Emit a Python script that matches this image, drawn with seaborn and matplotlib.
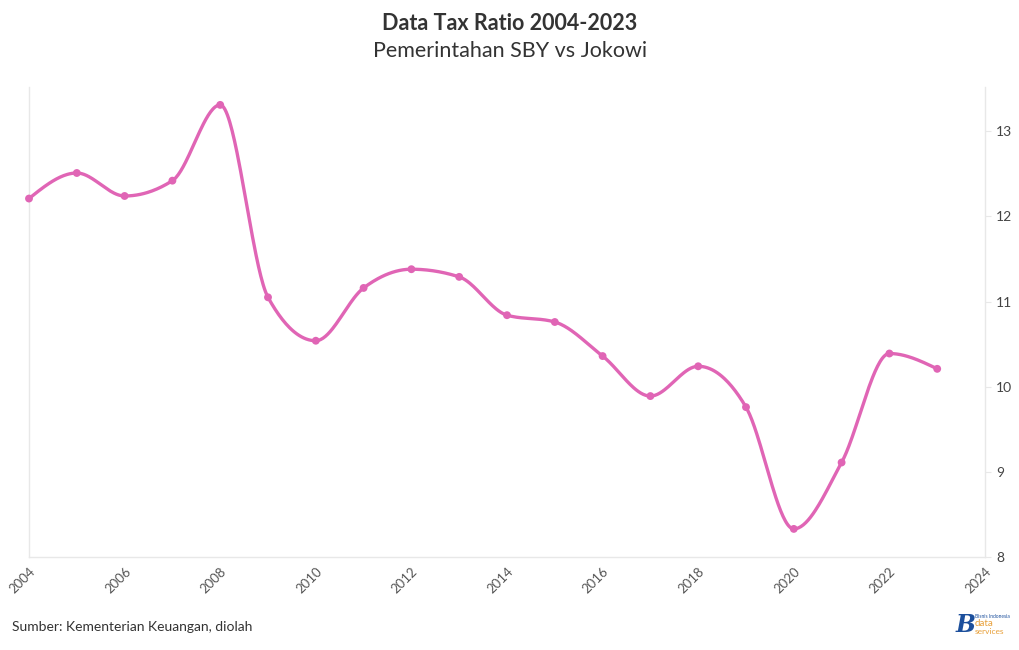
import numpy as np
import pandas as pd
import seaborn as sns
import matplotlib.pyplot as plt

# data tax ratio (% PDB)
years = list(range(2004, 2024))
tax_ratio = [12.21, 12.51, 12.24, 12.42, 13.31, 11.05, 10.54, 11.16, 11.38, 11.29,
             10.84, 10.76, 10.36, 9.89, 10.24, 9.76, 8.33, 9.11, 10.39, 10.21]
x_ticks = list(range(2004, 2025, 2))
y_ticks = [8, 9, 10, 11, 12, 13]

title = "Data Tax Ratio 2004-2023"
subtitle = "Pemerintahan SBY vs Jokowi"
source = "Sumber: Kementerian Keuangan, diolah"

pink = "#e065b5"
grey_line = "#e8e8e8"
text_col = "#333333"

sns.set_theme(style="white")
plt.rcParams['font.family'] = ['Lato', 'DejaVu Sans']


# kurva halus ala d3.curveMonotoneX
def monotone_curve(x, y, n=40):
    x = np.asarray(x, float)
    y = np.asarray(y, float)
    h = np.diff(x)
    s = np.diff(y) / h
    t = np.zeros_like(y)
    for i in range(1, len(y) - 1):
        p = (s[i - 1] * h[i] + s[i] * h[i - 1]) / (h[i - 1] + h[i])
        t[i] = (np.sign(s[i - 1]) + np.sign(s[i])) * min(abs(s[i - 1]), abs(s[i]), 0.5 * abs(p))
    t[0] = (3 * s[0] - t[1]) / 2
    t[-1] = (3 * s[-1] - t[-2]) / 2
    xs, ys = [], []
    for i in range(len(h)):
        u = np.linspace(0, 1, n, endpoint=(i == len(h) - 1))
        h00 = 2 * u**3 - 3 * u**2 + 1
        h10 = u**3 - 2 * u**2 + u
        h01 = -2 * u**3 + 3 * u**2
        h11 = u**3 - u**2
        xs.append(x[i] + u * h[i])
        ys.append(h00 * y[i] + h10 * h[i] * t[i] + h01 * y[i + 1] + h11 * h[i] * t[i + 1])
    return np.concatenate(xs), np.concatenate(ys)


df = pd.DataFrame({"tahun": years, "rasio": tax_ratio})
cx, cy = monotone_curve(years, tax_ratio)
curve = pd.DataFrame({"tahun": cx, "rasio": cy})

fig = plt.figure(figsize=(10.2, 6.5), dpi=100)
ax = fig.add_axes([29 / 1020, 1 - 557 / 650, (985 - 29) / 1020, (557 - 87) / 650])

sns.lineplot(data=curve, x="tahun", y="rasio", color=pink, linewidth=2.4, sort=False,
             ax=ax, clip_on=False)
sns.scatterplot(data=df, x="tahun", y="rasio", color=pink, s=32, edgecolor="none", ax=ax,
                zorder=3, clip_on=False)

ax.set_xlim(2004, 2024)
ax.set_ylim(8, 13.52)
ax.set_xticks(x_ticks)
ax.set_xticklabels([str(v) for v in x_ticks], rotation=45, ha="right", rotation_mode="anchor",
                   fontsize=9.5, color="#555555")
ax.set_yticks(y_ticks)
ax.set_yticklabels([str(v) for v in y_ticks], fontsize=10, color="#444444")
ax.yaxis.tick_right()
ax.tick_params(axis="y", length=4, width=0.8, color=grey_line, pad=4)
ax.tick_params(axis="x", length=4, width=0.8, color=grey_line, pad=2)
ax.set_xlabel("")
ax.set_ylabel("")

for side in ["left", "right", "bottom"]:
    ax.spines[side].set_color(grey_line)
    ax.spines[side].set_linewidth(1)
ax.spines["top"].set_visible(False)

fig.text(0.5, 1 - 24 / 650, title, ha="center", va="center", fontsize=15.5,
         fontweight="bold", color=text_col)
fig.text(0.5, 1 - 51 / 650, subtitle, ha="center", va="center", fontsize=15.5, color=text_col)
fig.text(12 / 1020, 1 - 627 / 650, source, ha="left", va="center", fontsize=10, color=text_col)

# logo kecil Bisnis Indonesia data services
fig.text(966 / 1020, 1 - 625 / 650, "B", ha="center", va="center", fontsize=17,
         fontweight="bold", fontstyle="italic", color="#1c4f9c", family=["DejaVu Serif"])
fig.text(975 / 1020, 1 - 617 / 650, "Bisnis Indonesia", ha="left", va="center", fontsize=3.5,
         color="#1c4f9c")
fig.text(975 / 1020, 1 - 624 / 650, "data", ha="left", va="center", fontsize=7, color="#e8a03a")
fig.text(975 / 1020, 1 - 632 / 650, "services", ha="left", va="center", fontsize=6, color="#e8a03a")

fig.savefig("out.png", dpi=100)
